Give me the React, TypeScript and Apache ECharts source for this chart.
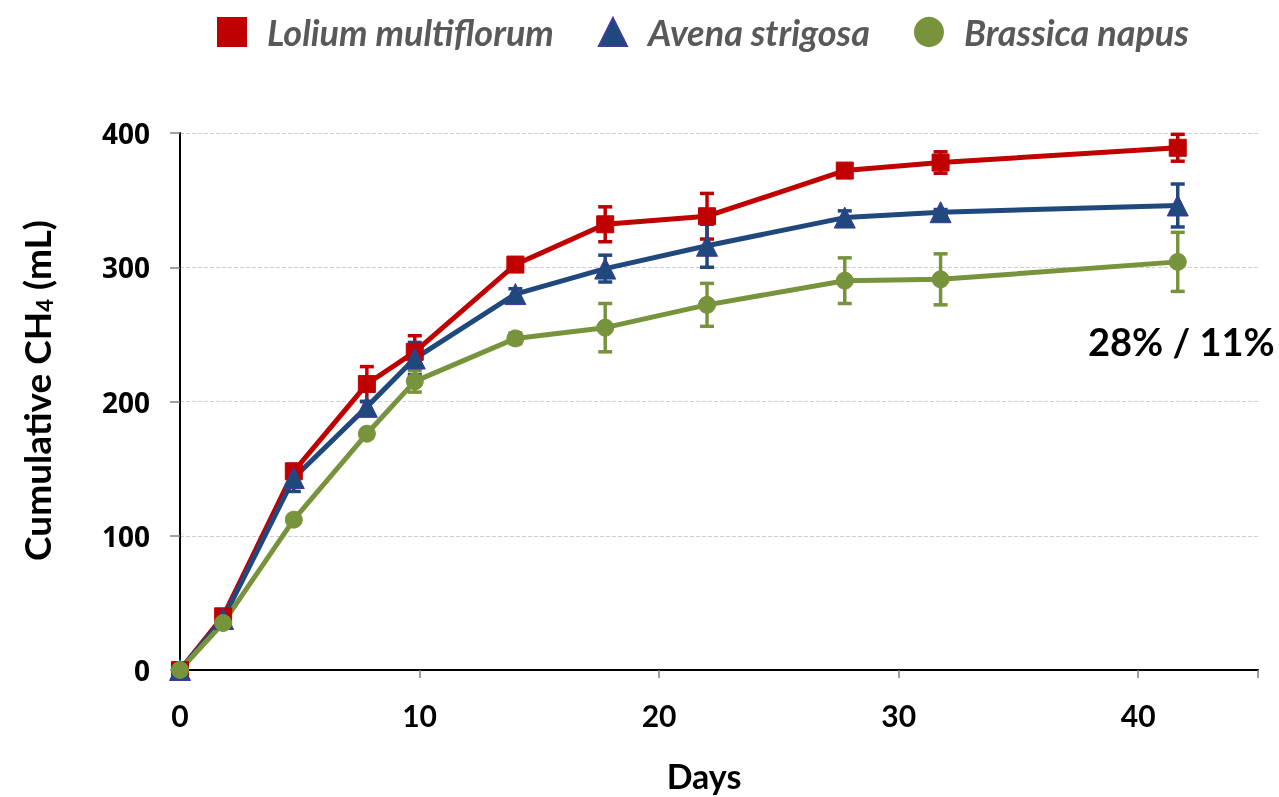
import React, { useEffect, useRef } from "react";
import * as echarts from "echarts";

const days = [0, 1.8, 4.75, 7.8, 9.8, 14, 17.75, 22, 27.75, 31.75, 41.65];

const seriesNames = ["Lolium multiflorum", "Avena strigosa", "Brassica napus"];
const lolium = [0, 40, 148, 213, 237, 302, 332, 338, 372, 378, 389];
const loliumErr = [0, 3, 5, 13, 12, 3, 13, 17, 3, 8, 10];
const avena = [0, 38, 143, 196, 232, 280, 299, 316, 337, 341, 346];
const avenaErr = [0, 2, 10, 4, 12, 4, 10, 16, 5, 2, 16];
const brassica = [0, 35, 112, 176, 215, 247, 255, 272, 290, 291, 304];
const brassicaErr = [0, 2, 3, 3, 8, 4, 18, 16, 17, 19, 22];

const yTicks = [0, 100, 200, 300, 400];
const xTicks = [0, 10, 20, 30, 40];
const annotation = "28% / 11%";

const colors = ["#C00000", "#1F497D", "#77933C"];
const symbols = ["rect", "triangle", "circle"];
const symbolSizes = [17, 21, 17];

function errData(vals: number[], errs: number[]) {
  const out: number[][] = [];
  for (let i = 0; i < vals.length; i++) {
    if (errs[i] > 0) out.push([days[i], vals[i] - errs[i], vals[i] + errs[i]]);
  }
  return out;
}

function makeErrSeries(name: string, color: string, data: number[][]) {
  return {
    name,
    type: "custom",
    z: 1,
    data,
    renderItem: (params: any, api: any) => {
      const x = api.value(0);
      const lo = api.value(1);
      const hi = api.value(2);
      const p1 = api.coord([x, lo]);
      const p2 = api.coord([x, hi]);
      const w = 7;
      const st = { stroke: color, lineWidth: 3.5 };
      return {
        type: "group",
        children: [
          { type: "line", shape: { x1: p1[0], y1: p1[1], x2: p2[0], y2: p2[1] }, style: st },
          { type: "line", shape: { x1: p1[0] - w, y1: p1[1], x2: p1[0] + w, y2: p1[1] }, style: st },
          { type: "line", shape: { x1: p2[0] - w, y1: p2[1], x2: p2[0] + w, y2: p2[1] }, style: st },
        ],
      };
    },
  };
}

export default function App() {
  const ref = useRef<HTMLDivElement>(null);
  useEffect(() => {
    if (!ref.current) return;
    const chart = echarts.init(ref.current, null, { renderer: "svg" });
    const vals = [lolium, avena, brassica];
    const errs = [loliumErr, avenaErr, brassicaErr];
    const lineSeries = vals.map((v, i) => ({
      name: seriesNames[i],
      type: "line",
      z: 2,
      data: v.map((y, j) => [days[j], y]),
      symbol: symbols[i],
      symbolSize: symbolSizes[i],
      showAllSymbol: true,
      lineStyle: { color: colors[i], width: 5 },
      itemStyle: { color: colors[i], borderColor: i === 1 ? "#3B3B9E" : colors[i], borderWidth: 1 },
    }));
    const errSeries = vals.map((v, i) => makeErrSeries("err" + i, colors[i], errData(v, errs[i])));
    chart.setOption({
      animation: false,
      grid: { left: 180, right: 21, top: 133, bottom: 124 },
      legend: {
        left: 212,
        top: 9,
        itemWidth: 28,
        itemHeight: 28,
        itemGap: 44,
        data: seriesNames.map((n, i) => ({ name: n, icon: symbols[i] })),
        textStyle: {
          fontFamily: "Lato",
          fontSize: 36,
          fontWeight: "bold",
          fontStyle: "italic",
          color: "#595959",
          padding: [0, 0, 0, 16],
        },
      },
      xAxis: {
        type: "value",
        min: 0,
        max: 45,
        interval: 10,
        name: "Days",
        nameLocation: "middle",
        nameGap: 88,
        nameTextStyle: {
          fontFamily: "Lato",
          fontSize: 34,
          fontWeight: "bold",
          color: "#000",
          padding: [0, 30, 0, 0],
        },
        axisLine: { lineStyle: { color: "#000", width: 2 } },
        axisTick: { show: true, length: 8, lineStyle: { color: "#808080", width: 1.5 } },
        axisLabel: {
          margin: 30,
          fontFamily: "Lato",
          fontSize: 30,
          fontWeight: "bold",
          color: "#000",
          formatter: (v: number) => (xTicks.includes(v) ? String(v) : ""),
        },
        splitLine: { show: false },
      },
      yAxis: {
        type: "value",
        min: 0,
        max: 400,
        interval: 100,
        name: "{b|Cumulative CH}{s|4}{b| (mL)}",
        nameLocation: "middle",
        nameGap: 125,
        nameRotate: 90,
        nameTextStyle: {
          padding: [0, 0, 0, 22],
          rich: {
            b: { fontFamily: "Lato", fontSize: 37, fontWeight: "bold", color: "#000" },
            s: { fontFamily: "Lato", fontSize: 22, fontWeight: "bold", color: "#000", padding: [16, 0, 0, 0] },
          },
        },
        axisLine: { show: true, lineStyle: { color: "#000", width: 2 } },
        axisTick: { show: true, length: 10, lineStyle: { color: "#808080", width: 1.5 } },
        axisLabel: {
          margin: 30,
          fontFamily: "Open Sans",
          fontSize: 28,
          fontWeight: "bold",
          color: "#000",
          formatter: (v: number) => (yTicks.includes(v) ? String(v) : ""),
        },
        splitLine: { show: true, lineStyle: { color: "#d0d0d0", type: "dashed", width: 1 } },
      },
      graphic: [
        {
          type: "text",
          left: 1088,
          top: 322,
          style: {
            text: annotation,
            font: "bold 38px Lato",
            fill: "#000",
          },
        },
      ],
      series: [...errSeries, ...lineSeries],
    });
    return () => chart.dispose();
  }, []);
  return <div ref={ref} style={{ position: "fixed", left: 0, top: 0, width: 1279, height: 797 }} />;
}
